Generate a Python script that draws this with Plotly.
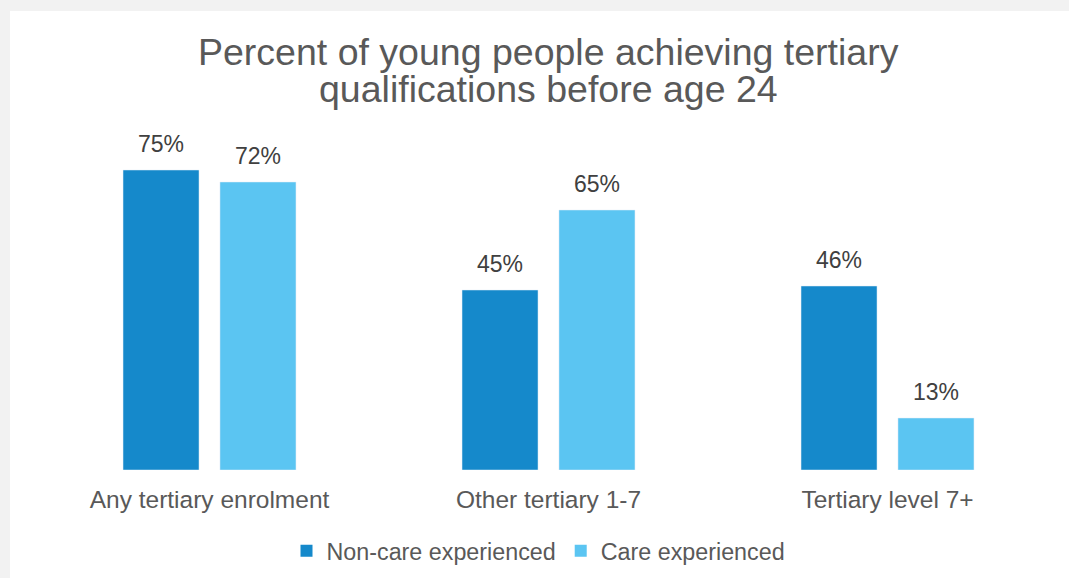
import plotly.graph_objects as go

# Chart data
categories = ["Any tertiary enrolment", "Other tertiary 1-7", "Tertiary level 7+"]
non_care = [75, 45, 46]
care = [72, 65, 13]
series_names = ["Non-care experienced", "Care experienced"]
title_lines = ["Percent of young people achieving tertiary", "qualifications before age 24"]

# Styling
W, H = 1069, 578
M_L, M_R, M_T, M_B = 40, 12, 150, 108
DARK = "#1589CB"
LIGHT = "#5BC5F2"
TEXT = "#595959"
LABEL = "#404040"
FONT = "Liberation Sans, Arial, sans-serif"
BARGAP = 0.428
GROUPGAP = 0.216

plot_w = W - M_L - M_R
plot_h = H - M_T - M_B
cat_w = plot_w / len(categories)
slot = cat_w * (1 - BARGAP) / 2

fig = go.Figure()
for name, vals, col in [(series_names[0], non_care, DARK), (series_names[1], care, LIGHT)]:
    fig.add_trace(go.Bar(x=categories, y=vals, name=name, marker_color=col,
                         showlegend=False, hoverinfo="x+y"))
    # square legend swatch
    fig.add_trace(go.Scatter(x=[None], y=[None], mode="markers", name=name,
                             marker=dict(symbol="square", size=12, color=col)))

# value labels above each bar
annotations = []
for k, vals in enumerate([non_care, care]):
    shift = (k - 0.5) * slot
    for c, v in zip(categories, vals):
        annotations.append(dict(x=c, y=v, xref="x", yref="y", text=f"{v}%",
                                showarrow=False, xshift=shift, yshift=11,
                                yanchor="bottom",
                                font=dict(family=FONT, size=23, color=LABEL)))

# two-line title
def px_to_paper(py):
    return (H - M_B - py) / plot_h

for line, py in zip(title_lines, [52, 89]):
    annotations.append(dict(x=0.5, y=px_to_paper(py), xref="paper", yref="paper",
                            text=line, showarrow=False, xanchor="center",
                            yanchor="middle",
                            font=dict(family=FONT, size=37.5, color=TEXT)))

fig.update_layout(
    width=W, height=H,
    margin=dict(l=M_L, r=M_R, t=M_T, b=M_B, pad=0, autoexpand=False),
    paper_bgcolor="#F2F2F2",
    plot_bgcolor="white",
    barmode="group", bargap=BARGAP, bargroupgap=GROUPGAP,
    font=dict(family=FONT, color=TEXT),
    annotations=annotations,
    shapes=[dict(type="rect", xref="paper", yref="paper",
                 x0=(10 - M_L) / plot_w, x1=(W - M_L) / plot_w + 0.01,
                 y0=px_to_paper(H + 5), y1=px_to_paper(11),
                 fillcolor="white", line=dict(width=0), layer="below")],
    legend=dict(orientation="h", x=0.5 - 10 / plot_w, xanchor="center",
                y=px_to_paper(551), yanchor="middle",
                font=dict(family=FONT, size=23.3, color=TEXT),
                bgcolor="rgba(0,0,0,0)"),
    xaxis=dict(showline=False, showgrid=False, zeroline=False, ticks="",
               automargin=False, ticklabelstandoff=12,
               tickfont=dict(family=FONT, size=24.5, color=TEXT)),
    yaxis=dict(range=[0, 80], visible=False, showgrid=False, zeroline=False),
)

fig.write_html("out.html")
